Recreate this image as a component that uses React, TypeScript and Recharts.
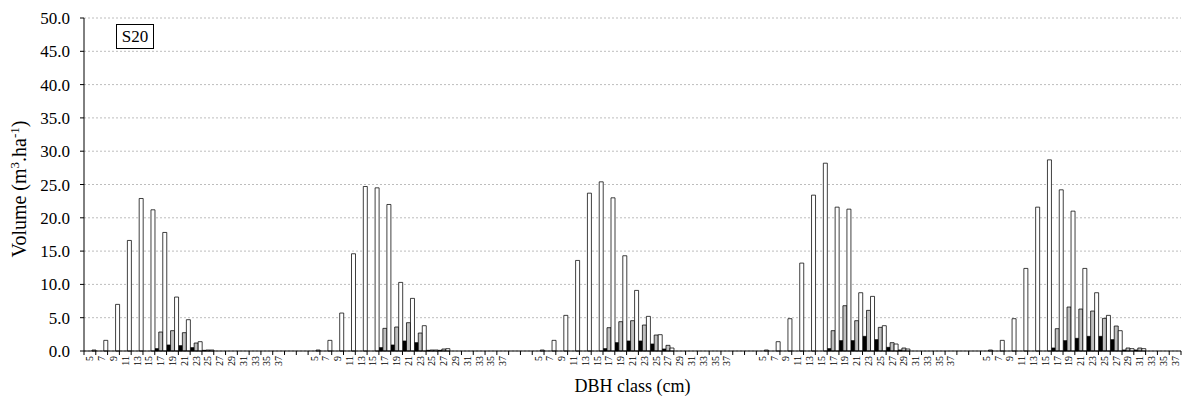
import React from 'react';
import { BarChart, Bar, XAxis, YAxis, CartesianGrid, Label } from 'recharts';

const FONT = '"Times New Roman", "Liberation Serif", Times, "DejaVu Serif", serif';

// DBH classes repeated in every group
const DBH_CLASSES = ['5', '7', '9', '11', '13', '15', '17', '19', '21', '23', '25', '27', '29', '31', '33', '35', '37'];
const Y_TICKS = [0, 5, 10, 15, 20, 25, 30, 35, 40, 45, 50];

// group 1
const G1_BLACK = [0, 0, 0, 0, 0, 0, 0.35, 0.9, 0.8, 0.5, 0.1, 0, 0, 0, 0, 0, 0];
const G1_GRAY = [0, 0, 0, 0, 0, 0, 2.85, 3.05, 2.75, 1.2, 0.15, 0, 0, 0, 0, 0, 0];
const G1_WHITE = [0.15, 1.6, 7.0, 16.6, 22.9, 21.2, 17.8, 8.1, 4.7, 1.4, 0.15, 0, 0, 0, 0, 0, 0];

// group 2
const G2_BLACK = [0, 0, 0, 0, 0, 0, 0.5, 0.9, 1.5, 1.25, 0.1, 0.1, 0, 0, 0, 0, 0];
const G2_GRAY = [0, 0, 0, 0, 0, 0, 3.4, 3.6, 4.25, 2.7, 0.15, 0.3, 0, 0, 0, 0, 0];
const G2_WHITE = [0.15, 1.6, 5.7, 14.6, 24.7, 24.5, 22.0, 10.3, 7.9, 3.8, 0.15, 0.35, 0, 0, 0, 0, 0];

// group 3
const G3_BLACK = [0, 0, 0, 0, 0, 0, 0.35, 1.25, 1.5, 1.5, 1.05, 0.3, 0, 0, 0, 0, 0];
const G3_GRAY = [0, 0, 0, 0, 0, 0, 3.5, 4.4, 4.55, 3.9, 2.4, 0.85, 0, 0, 0, 0, 0];
const G3_WHITE = [0.15, 1.6, 5.35, 13.6, 23.7, 25.4, 23.0, 14.3, 9.1, 5.2, 2.45, 0.45, 0, 0, 0, 0, 0];

// group 4
const G4_BLACK = [0, 0, 0, 0, 0, 0, 0.35, 1.55, 1.55, 2.2, 1.7, 0.55, 0.15, 0, 0, 0, 0];
const G4_GRAY = [0, 0, 0, 0, 0, 0, 3.05, 6.8, 4.55, 6.1, 3.55, 1.25, 0.45, 0, 0, 0, 0];
const G4_WHITE = [0.15, 1.4, 4.85, 13.2, 23.4, 28.2, 21.6, 21.3, 8.75, 8.2, 3.8, 1.05, 0.3, 0, 0, 0, 0];

// group 5
const G5_BLACK = [0, 0, 0, 0, 0, 0, 0.45, 1.55, 1.9, 2.2, 2.2, 1.7, 0.15, 0.15, 0, 0, 0];
const G5_GRAY = [0, 0, 0, 0, 0, 0, 3.35, 6.6, 6.3, 6.0, 4.9, 3.75, 0.45, 0.45, 0, 0, 0];
const G5_WHITE = [0.15, 1.6, 4.85, 12.4, 21.6, 28.7, 24.2, 21.0, 12.4, 8.75, 5.35, 3.05, 0.35, 0.35, 0, 0, 0];

const GROUPS = [
  { black: G1_BLACK, gray: G1_GRAY, white: G1_WHITE },
  { black: G2_BLACK, gray: G2_GRAY, white: G2_WHITE },
  { black: G3_BLACK, gray: G3_GRAY, white: G3_WHITE },
  { black: G4_BLACK, gray: G4_GRAY, white: G4_WHITE },
  { black: G5_BLACK, gray: G5_GRAY, white: G5_WHITE },
];
const GAP_SLOTS = 2;

type Row = { key: string; label: string; black?: number; gray?: number; white?: number };

const chartData: Row[] = [];
GROUPS.forEach((g, gi) => {
  DBH_CLASSES.forEach((c, i) => {
    chartData.push({ key: `g${gi}-${c}`, label: c, black: g.black[i], gray: g.gray[i], white: g.white[i] });
  });
  if (gi < GROUPS.length - 1) {
    for (let k = 0; k < GAP_SLOTS; k++) chartData.push({ key: `gap${gi}-${k}`, label: '' });
  }
});

const W = 1182;
const H = 398;
const MARGIN = { top: 18, right: 1, left: 24, bottom: 0 };
const Y_AXIS_W = 60;
const X_AXIS_H = 47;
const PLOT_LEFT = MARGIN.left + Y_AXIS_W;
const PLOT_W = W - PLOT_LEFT - MARGIN.right;
const AXIS_Y = H - X_AXIS_H;
const STEP = PLOT_W / chartData.length;

// category label rotated, with tick marks on the category boundaries
const CategoryTick = (props: any) => {
  const { x, index } = props;
  const row = chartData[index];
  const left = x - STEP / 2;
  const last = index === chartData.length - 1;
  return (
    <g>
      <line x1={left} x2={left} y1={AXIS_Y} y2={AXIS_Y + 4} stroke="#000" strokeWidth={1} />
      {last && <line x1={x + STEP / 2} x2={x + STEP / 2} y1={AXIS_Y} y2={AXIS_Y + 4} stroke="#000" strokeWidth={1} />}
      {row && row.label && (
        <text
          x={x}
          y={AXIS_Y + 5}
          transform={`rotate(-90, ${x}, ${AXIS_Y + 5})`}
          textAnchor="end"
          dominantBaseline="central"
          fontSize={10}
          style={{ fontFamily: FONT }}
          fill="#000"
        >
          {row.label}
        </text>
      )}
    </g>
  );
};

const App: React.FC = () => {
  return (
    <div style={{ position: 'absolute', left: 0, top: 0, width: W, height: H, background: '#fff', fontFamily: FONT }}>
      <BarChart width={W} height={H} data={chartData} margin={MARGIN} barCategoryGap={0} barGap={0} style={{ fontFamily: FONT }}>
        <CartesianGrid vertical={false} stroke="#bdbdbd" strokeDasharray="2 2" />
        <XAxis
          dataKey="key"
          interval={0}
          height={X_AXIS_H}
          tickLine={false}
          axisLine={{ stroke: '#000', strokeWidth: 1 }}
          tick={<CategoryTick />}
        >
          <Label
            content={() => (
              <text x={PLOT_LEFT + PLOT_W / 2} y={392} textAnchor="middle" fontSize={18} style={{ fontFamily: FONT }} fill="#000">
                DBH class (cm)
              </text>
            )}
          />
        </XAxis>
        <YAxis
          width={Y_AXIS_W}
          domain={[0, 50]}
          ticks={Y_TICKS}
          interval={0}
          tickFormatter={(v: number) => v.toFixed(1)}
          tickSize={4}
          tickMargin={10}
          tickLine={{ stroke: '#000' }}
          axisLine={{ stroke: '#000', strokeWidth: 1 }}
          tick={{ fontSize: 17, fill: '#000', style: { fontFamily: FONT } }}
        >
          <Label
            content={() => (
              <text
                x={26}
                y={189}
                transform="rotate(-90, 26, 189)"
                textAnchor="middle"
                fontSize={20}
                style={{ fontFamily: FONT }}
                fill="#000"
              >
                Volume (m
                <tspan baselineShift="super" fontSize={13}>3</tspan>
                .ha
                <tspan baselineShift="super" fontSize={13}>-1</tspan>
                )
              </text>
            )}
          />
        </YAxis>
        <Bar dataKey="black" fill="#000" stroke="#000" strokeWidth={0.75} isAnimationActive={false} />
        <Bar dataKey="gray" fill="#bfbfbf" stroke="#000" strokeWidth={0.75} isAnimationActive={false} />
        <Bar dataKey="white" fill="#fff" stroke="#000" strokeWidth={0.75} isAnimationActive={false} />
      </BarChart>
      <div
        style={{
          position: 'absolute',
          left: 116,
          top: 24,
          width: 38,
          height: 25,
          border: '1px solid #000',
          boxSizing: 'border-box',
          fontFamily: FONT,
          fontSize: 17,
          lineHeight: '23px',
          textAlign: 'center',
          background: '#fff',
        }}
      >
        S20
      </div>
    </div>
  );
};

export default App;
